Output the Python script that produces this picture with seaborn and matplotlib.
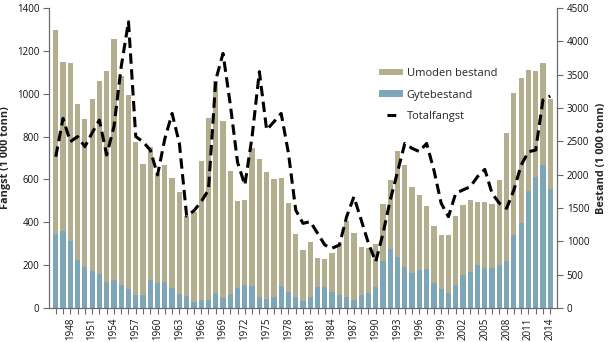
import numpy as np
import pandas as pd
import matplotlib
matplotlib.use("Agg")
import matplotlib.pyplot as plt
import seaborn as sns
from matplotlib.patches import Patch
from matplotlib.lines import Line2D

years = list(range(1946, 2015))

# Total stock (top of stacked bars), right axis, 1000 tonnes
total_bestand = [4170, 3695, 3670, 3065, 2835, 3140, 3410, 3560, 4040, 3485,
                 3190, 2495, 2165, 2415, 2015, 2140, 1955, 1745, 1380, 1440,
                 2200, 2855, 3405, 2805, 2060, 1610, 1620, 2405, 2240, 2035,
                 1935, 1950, 1580, 1115, 865, 985, 755, 740, 820, 955,
                 1300, 1130, 915, 895, 955, 1565, 1915, 2360, 2150, 1810,
                 1690, 1530, 1230, 1100, 1100, 1385, 1545, 1620, 1590, 1590,
                 1555, 1920, 2620, 3220, 3455, 3565, 3550, 3680, 3130]

# Spawning stock (blue), right axis
gytebestand = [1110, 1160, 1010, 725, 610, 560, 510, 390, 420, 340,
               290, 200, 190, 425, 375, 395, 300, 205, 180, 90,
               115, 120, 220, 145, 215, 305, 340, 335, 160, 135,
               165, 335, 240, 170, 100, 160, 320, 320, 245, 190,
               165, 115, 200, 230, 315, 700, 885, 770, 615, 520,
               570, 590, 380, 290, 230, 350, 490, 545, 650, 605,
               600, 645, 710, 1095, 1280, 1760, 1960, 2150, 1790]

# Total catch, left axis
totalfangst = [706, 885, 776, 800, 753, 817, 877, 714, 846, 1126,
               1336, 800, 776, 737, 621, 790, 908, 768, 429, 454,
               496, 551, 1064, 1188, 950, 680, 574, 800, 1103, 831,
               869, 908, 722, 457, 395, 403, 349, 294, 279, 294,
               426, 519, 411, 302, 216, 348, 504, 635, 768, 745,
               730, 768, 644, 489, 426, 535, 551, 566, 613, 647,
               535, 489, 465, 551, 667, 729, 737, 971, 989]

labels = ["Umoden bestand", "Gytebestand", "Totalfangst"]
KHAKI = "#B2AE8E"
BLUE = "#7DA7B9"

sns.set_style("ticks")
plt.rcParams["font.family"] = ["Open Sans", "DejaVu Sans"]

df = pd.DataFrame({"year": years, "total": total_bestand,
                   "gyte": gytebestand, "fangst": totalfangst})

fig = plt.figure(figsize=(6.12, 3.42), dpi=100)
ax = fig.add_axes([49 / 612, 34 / 342, 508 / 612, 300 / 342])
ax2 = ax.twinx()

sns.barplot(data=df, x="year", y="total", color=KHAKI, saturation=1,
            width=0.72, linewidth=0, ax=ax2)
sns.barplot(data=df, x="year", y="gyte", color=BLUE, saturation=1,
            width=0.72, linewidth=0, ax=ax2)

pos = np.arange(len(years))
sns.lineplot(x=pos, y=df["fangst"], ax=ax, color="black", linewidth=2.2,
             linestyle=(0, (3.4, 1.8)), dash_capstyle="butt")

ax.set_zorder(ax2.get_zorder() + 1)
ax.patch.set_visible(False)

ax.set_ylim(0, 1400)
ax.set_yticks(np.arange(0, 1401, 200))
ax2.set_ylim(0, 4500)
ax2.set_yticks(np.arange(0, 4501, 500))

ax.set_xlim(-0.93, len(years) - 1 + 0.93)
ax.set_xticks(pos[2::3])
ax.set_xticklabels([str(y) for y in years[2::3]], rotation=90)
ax.set_xticks(pos, minor=True)
ax.set_xlabel("")
ax2.set_xlabel("")

spine_c = "#6a6a6a"
for a in (ax, ax2):
    for s in a.spines.values():
        s.set_color(spine_c)
        s.set_linewidth(0.8)
    a.spines["top"].set_visible(False)
    a.tick_params(axis="both", which="both", labelsize=7, length=4,
                  width=0.8, color=spine_c, pad=3, labelcolor="#111111")
    a.grid(False)

ax.set_ylabel("Fangst (1 000 tonn)", fontsize=7.8, fontweight="bold", labelpad=4)
ax2.set_ylabel("Bestand (1 000 tonn)", fontsize=7.8, fontweight="bold", labelpad=5)

handles = [Patch(facecolor=KHAKI, edgecolor="none"),
           Patch(facecolor=BLUE, edgecolor="none"),
           Line2D([], [], color="black", linewidth=2.2,
                  linestyle=(0, (0, 2.6, 2.9, 20)), dash_capstyle="butt")]
fig.legend(handles, labels, loc="upper left",
           bbox_to_anchor=(379 / 612, 1 - 68 / 342), frameon=False,
           fontsize=8, borderpad=0, borderaxespad=0, handlelength=2.2,
           handleheight=0.55, handletextpad=0.3, labelspacing=0.95)

fig.savefig("out.png", dpi=100)
